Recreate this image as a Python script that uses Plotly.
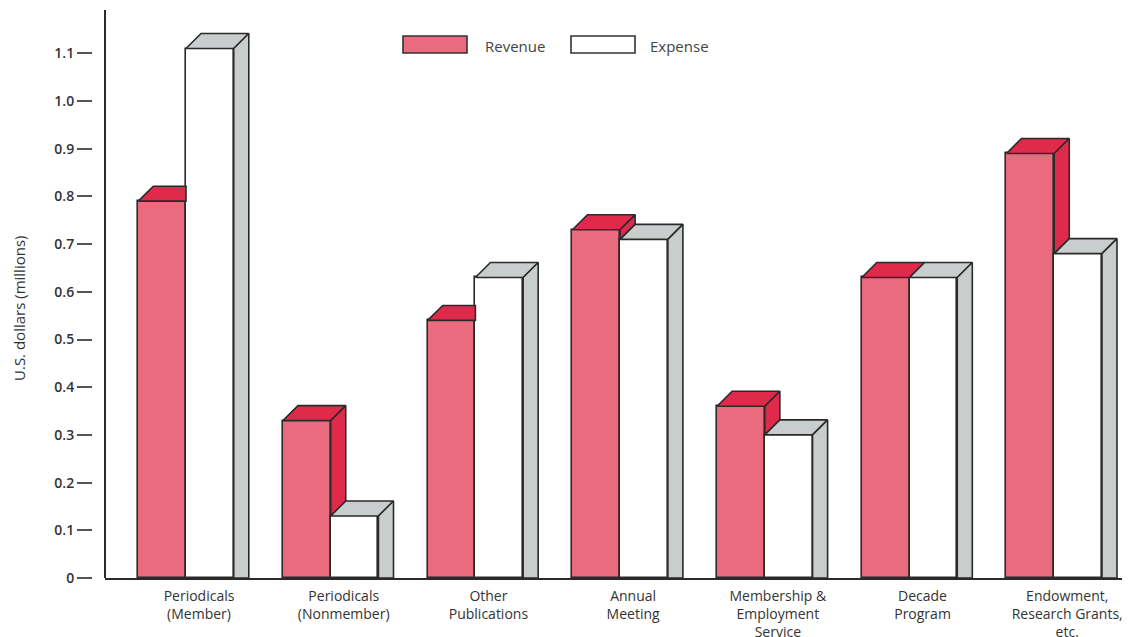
import plotly.graph_objects as go

categories = ["Periodicals<br>(Member)", "Periodicals<br>(Nonmember)", "Other<br>Publications",
              "Annual<br>Meeting", "Membership &<br>Employment<br>Service", "Decade<br>Program",
              "Endowment,<br>Research Grants,<br>etc."]
revenue = [0.79, 0.33, 0.54, 0.73, 0.36, 0.63, 0.89]
expense = [1.11, 0.13, 0.63, 0.71, 0.30, 0.63, 0.68]
y_ticks = [0, 0.1, 0.2, 0.3, 0.4, 0.5, 0.6, 0.7, 0.8, 0.9, 1.0, 1.1]
y_tick_text = ["0", "0.1", "0.2", "0.3", "0.4", "0.5", "0.6", "0.7", "0.8", "0.9", "1.0", "1.1"]

W, H = 1138, 637
BW = 0.33          # bar width in category units
DX = 0.104         # 3D depth, x (category units)
DY = 0.0314        # 3D depth, y (value units)
EDGE = "#2a2a2a"
REV_FRONT = "#ea6b7e"
REV_DARK = "#e02a4b"
EXP_FRONT = "#ffffff"
EXP_DARK = "#c9cdcd"
FONT = "Open Sans"

n = len(categories)
xs = list(range(n))

fig = go.Figure()
fig.add_trace(go.Bar(x=[i - BW / 2 for i in xs], y=revenue, width=BW,
                     marker=dict(color=REV_FRONT, line=dict(color=EDGE, width=1.6)),
                     showlegend=False, hoverinfo="skip"))
fig.add_trace(go.Bar(x=[i + BW / 2 for i in xs], y=expense, width=BW,
                     marker=dict(color=EXP_FRONT, line=dict(color=EDGE, width=1.6)),
                     showlegend=False, hoverinfo="skip"))


def poly(px, py, color):
    fig.add_trace(go.Scatter(x=px + [px[0]], y=py + [py[0]], mode="lines", fill="toself",
                             fillcolor=color, line=dict(color=EDGE, width=1.6),
                             showlegend=False, hoverinfo="skip"))


for i in xs:
    L = i - BW
    R = i
    E = i + BW
    r = revenue[i]
    e = expense[i]
    # revenue top (visible part)
    if e > r:
        poly([L, R, R, L + DX], [r, r, r + DY, r + DY], REV_DARK)
    else:
        poly([L, R, R + DX, L + DX], [r, r, r + DY, r + DY], REV_DARK)
        # revenue side visible above expense
        if r > e:
            poly([R, R + DX, R + DX, R], [e, e + DY, r + DY, r], REV_DARK)
    # expense top and side
    poly([R, E, E + DX, R + DX], [e, e, e + DY, e + DY], EXP_DARK)
    poly([E, E + DX, E + DX, E], [0, 0, e + DY, e], EXP_DARK)

ML, MR, MT, MB = 92, 16, 10, 59
plot_w = W - ML - MR
plot_h = H - MT - MB
x_start_px = 105
dom0 = (x_start_px - ML) / plot_w
unit_px = 144.7
x_lo = -(186 - x_start_px) / unit_px
x_hi = x_lo + (plot_w - (x_start_px - ML)) / unit_px
y_hi = (578 - 10) / 477.0

fig.update_layout(
    width=W, height=H,
    margin=dict(l=ML, r=MR, t=MT, b=MB, autoexpand=False),
    plot_bgcolor="white", paper_bgcolor="white",
    barmode="overlay", bargap=0,
    font=dict(family=FONT, color="#333333"),
    xaxis=dict(domain=[dom0, 1], range=[x_lo, x_hi], showgrid=False, zeroline=False,
               showline=True, linecolor=EDGE, linewidth=2,
               tickvals=[i + 0.09 for i in xs], ticktext=categories,
               ticks="outside", ticklen=4, tickcolor="rgba(0,0,0,0)",
               tickfont=dict(size=14, color="#333333"), fixedrange=True),
    yaxis=dict(range=[0, y_hi], anchor="free", position=0, showgrid=False, zeroline=False,
               showline=False, tickvals=y_ticks, ticktext=y_tick_text,
               ticks="outside", ticklen=15, tickwidth=1.6, tickcolor="#555555",
               tickfont=dict(size=14, color="#333333", weight=600),
               fixedrange=True),
    showlegend=False,
)

# vertical axis line at the plot's left edge
fig.add_shape(type="line", xref="x domain", yref="y domain", x0=0, x1=0, y0=0, y1=1,
              line=dict(color=EDGE, width=2))


def px2paper_x(p):
    return (p - ML) / plot_w


def px2paper_y(p):
    return (H - MB - p) / plot_h


# y-axis title
fig.add_annotation(x=px2paper_x(19), y=px2paper_y(309), xref="paper", yref="paper",
                   text="U.S. dollars (millions)", textangle=-90, showarrow=False,
                   xanchor="center", yanchor="middle",
                   font=dict(size=15, color="#333333"))

# legend
fig.add_shape(type="rect", xref="paper", yref="paper",
              x0=px2paper_x(403), x1=px2paper_x(467), y0=px2paper_y(53), y1=px2paper_y(36),
              fillcolor=REV_FRONT, line=dict(color="#333333", width=1.6))
fig.add_shape(type="rect", xref="paper", yref="paper",
              x0=px2paper_x(571), x1=px2paper_x(635), y0=px2paper_y(53), y1=px2paper_y(36),
              fillcolor="white", line=dict(color="#333333", width=1.6))
fig.add_annotation(x=px2paper_x(483), y=px2paper_y(46), xref="paper", yref="paper",
                   text="Revenue", showarrow=False, xanchor="left", yanchor="middle",
                   font=dict(size=15, color="#444444"))
fig.add_annotation(x=px2paper_x(648), y=px2paper_y(46), xref="paper", yref="paper",
                   text="Expense", showarrow=False, xanchor="left", yanchor="middle",
                   font=dict(size=15, color="#444444"))

fig.write_html("out.html")
